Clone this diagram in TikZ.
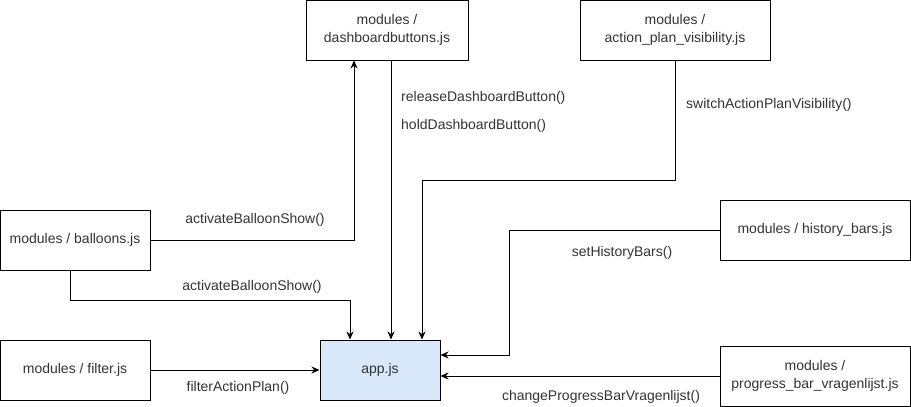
\documentclass[tikz,border=0pt]{standalone}
\usepackage{fontspec}
\setmainfont{Liberation Sans}
\usetikzlibrary{calc,arrows.meta}

\definecolor{appblue}{HTML}{DAE8FC}
\definecolor{textgray}{HTML}{333333}

\begin{document}
\begin{tikzpicture}[x=1pt,y=-1pt,>={Stealth[length=8pt,width=7pt]},
    module/.style={draw=black,line width=1pt,fill=white,align=center,inner sep=0pt,
      minimum height=60pt,font=\fontsize{14}{17.5}\selectfont,text=textgray},
    call/.style={->,line width=1pt},
    calltext/.style={inner sep=0pt,font=\fontsize{14}{16}\selectfont,text=textgray}]
        % --- 1. Canvas ---
        \useasboundingbox (0,0) rectangle (911,407);

        % --- 2. Module boxes ---
        \node[module,minimum width=162pt] (dash) at (387,30) {modules /\\dashboardbuttons.js};
        \node[module,minimum width=190pt] (apv) at (675,30) {modules /\\action\_plan\_visibility.js};
        \node[module,minimum width=150pt] (balloons) at (75,240) {modules / balloons.js};
        \node[module,minimum width=190pt] (hist) at (815,230) {modules / history\_bars.js};
        \node[module,minimum width=150pt] (filter) at (75,370) {modules / filter.js};
        \node[module,minimum width=190pt] (prog) at (815,376) {modules /\\progress\_bar\_vragenlijst.js};
        \node[module,minimum width=120pt,fill=appblue] (app) at (380,370) {app.js};

        % --- 3. Calls ---
        \draw[call] (balloons.east) -| ([xshift=-33pt]dash.south);
        \draw[call] ([xshift=-5pt]balloons.south) -- ++(0,30) -| ([xshift=-30pt]app.north);
        \draw[call] ([xshift=4pt]dash.south) -- ([xshift=4pt]dash.south |- app.north);
        \draw[call] (apv.south) -- ++(0,120) -| ([xshift=42pt]app.north);
        \draw[call] (hist.west) -- ++(-210,0) |- ([yshift=15pt]app.east);
        \draw[call] (prog.west) -- (prog.west -| app.east);
        \draw[call] (filter.east) -- (app.west);

        % --- 4. Function names ---
        \node[calltext] (lblShow1) at (255,220) {activateBalloonShow()};
        \node[calltext] (lblShow2) at (252,287) {activateBalloonShow()};
        \node[calltext,anchor=west] (lblRelease) at (401,98) {releaseDashboardButton()};
        \node[calltext,anchor=west] (lblHold) at (401,126) {holdDashboardButton()};
        \node[calltext,anchor=west] (lblSwitch) at (686,105) {switchActionPlanVisibility()};
        \node[calltext] (lblHist) at (622,253) {setHistoryBars()};
        \node[calltext] (lblProg) at (601,397) {changeProgressBarVragenlijst()};
        \node[calltext] (lblFilter) at (238,388) {filterActionPlan()};

    \end{tikzpicture}
\end{document}
